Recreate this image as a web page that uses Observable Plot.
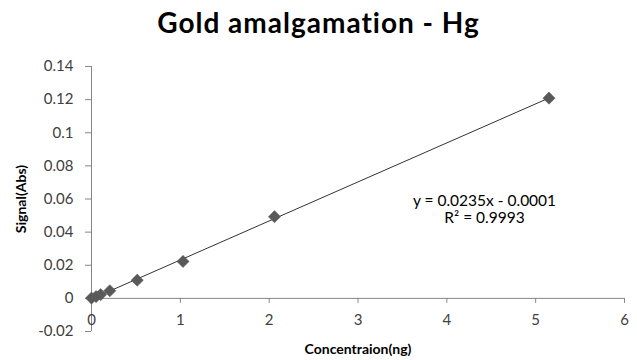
<!DOCTYPE html>
<html>
<head>
<meta charset="utf-8">
<script src="https://cdn.jsdelivr.net/npm/d3@7"></script>
<script src="https://cdn.jsdelivr.net/npm/@observablehq/plot@0.6"></script>
<style>
  html, body { margin: 0; padding: 0; background: #fff; }
  #wrap { width: 637px; height: 360px; position: relative; font-family: Lato, "Open Sans", sans-serif; }
  #title { height: 50px; box-sizing: border-box; padding-top: 2px; line-height: 40px; text-align: center; font-weight: bold; font-size: 28px; letter-spacing: 1px; color: #000; padding-left: 0px; }
</style>
</head>
<body>
<div id="wrap">
  <div id="title">Gold amalgamation - Hg</div>
  <div id="chart"></div>
</div>
<script>
const concentration = [0, 0.0515, 0.103, 0.206, 0.515, 1.03, 2.06, 5.15];
const signal = [0.0002, 0.0011, 0.0023, 0.0046, 0.0110, 0.0223, 0.0493, 0.1209];
const xTicks = [0, 1, 2, 3, 4, 5, 6];
const yTicks = [-0.02, 0, 0.02, 0.04, 0.06, 0.08, 0.1, 0.12, 0.14];
const yTickLabels = ["-0.02", "0", "0.02", "0.04", "0.06", "0.08", "0.1", "0.12", "0.14"];
const eqLines = ["y = 0.0235x - 0.0001", "R² = 0.9993"];
const xLabel = "Concentraion(ng)";
const yLabel = "Signal(Abs)";

const data = concentration.map((c, i) => ({x: c, y: signal[i]}));
const yLabelMap = new Map(yTicks.map((t, i) => [t, yTickLabels[i]]));

const W = 637, H = 310, mT = 16, mB = 29, mL = 91, mR = 13;
const yDomain = [-0.02, 0.14];
const frameH = H - mT - mB;
const zeroShift = -frameH * (0 - yDomain[0]) / (yDomain[1] - yDomain[0]);
const font = "Lato, 'Open Sans', sans-serif";

const chart = Plot.plot({
  width: W, height: H,
  marginTop: mT, marginBottom: mB, marginLeft: mL, marginRight: mR,
  style: {fontFamily: font, background: "#fff"},
  x: {domain: [0, 6]},
  y: {domain: yDomain},
  marks: [
    Plot.ruleX([0], {stroke: "#868686", strokeWidth: 1}),
    Plot.ruleY([0], {stroke: "#868686", strokeWidth: 1}),
    Plot.axisY({ticks: yTicks, tickFormat: d => yLabelMap.get(d), tickSize: 6, tickPadding: 12,
      fontSize: 15, stroke: "#868686", color: "#404040", label: null}),
    Plot.axisX({ticks: xTicks, tickFormat: d => String(d), tickSize: 5, tickPadding: 11, dy: zeroShift,
      fontSize: 15, stroke: "#868686", color: "#404040", label: null}),
    Plot.linearRegressionY(data, {x: "x", y: "y", ci: 0, stroke: "#333", strokeWidth: 1}),
    Plot.dot(data, {x: "x", y: "y", symbol: "diamond2", r: 5.5, fill: "#595959", stroke: "#595959", strokeWidth: 0.5}),
    Plot.text([eqLines[0]], {text: d => d, frameAnchor: "top-left", dx: 393, dy: 135, fontSize: 15.5, fill: "#000", textAnchor: "middle", lineAnchor: "middle"}),
    Plot.text([eqLines[1]], {text: d => d, frameAnchor: "top-left", dx: 393, dy: 152, fontSize: 15.5, fill: "#000", textAnchor: "middle", lineAnchor: "middle"}),
    Plot.text([yLabel], {text: d => d, frameAnchor: "left", dx: -70, rotate: -90, fontSize: 14, fontWeight: "bold", fill: "#000", textAnchor: "middle", lineAnchor: "middle"}),
    Plot.text([xLabel], {text: d => d, frameAnchor: "bottom", dy: 18, fontSize: 14, fontWeight: "bold", fill: "#000", textAnchor: "middle", lineAnchor: "middle"})
  ]
});
document.getElementById("chart").appendChild(chart);
</script>
</body>
</html>
